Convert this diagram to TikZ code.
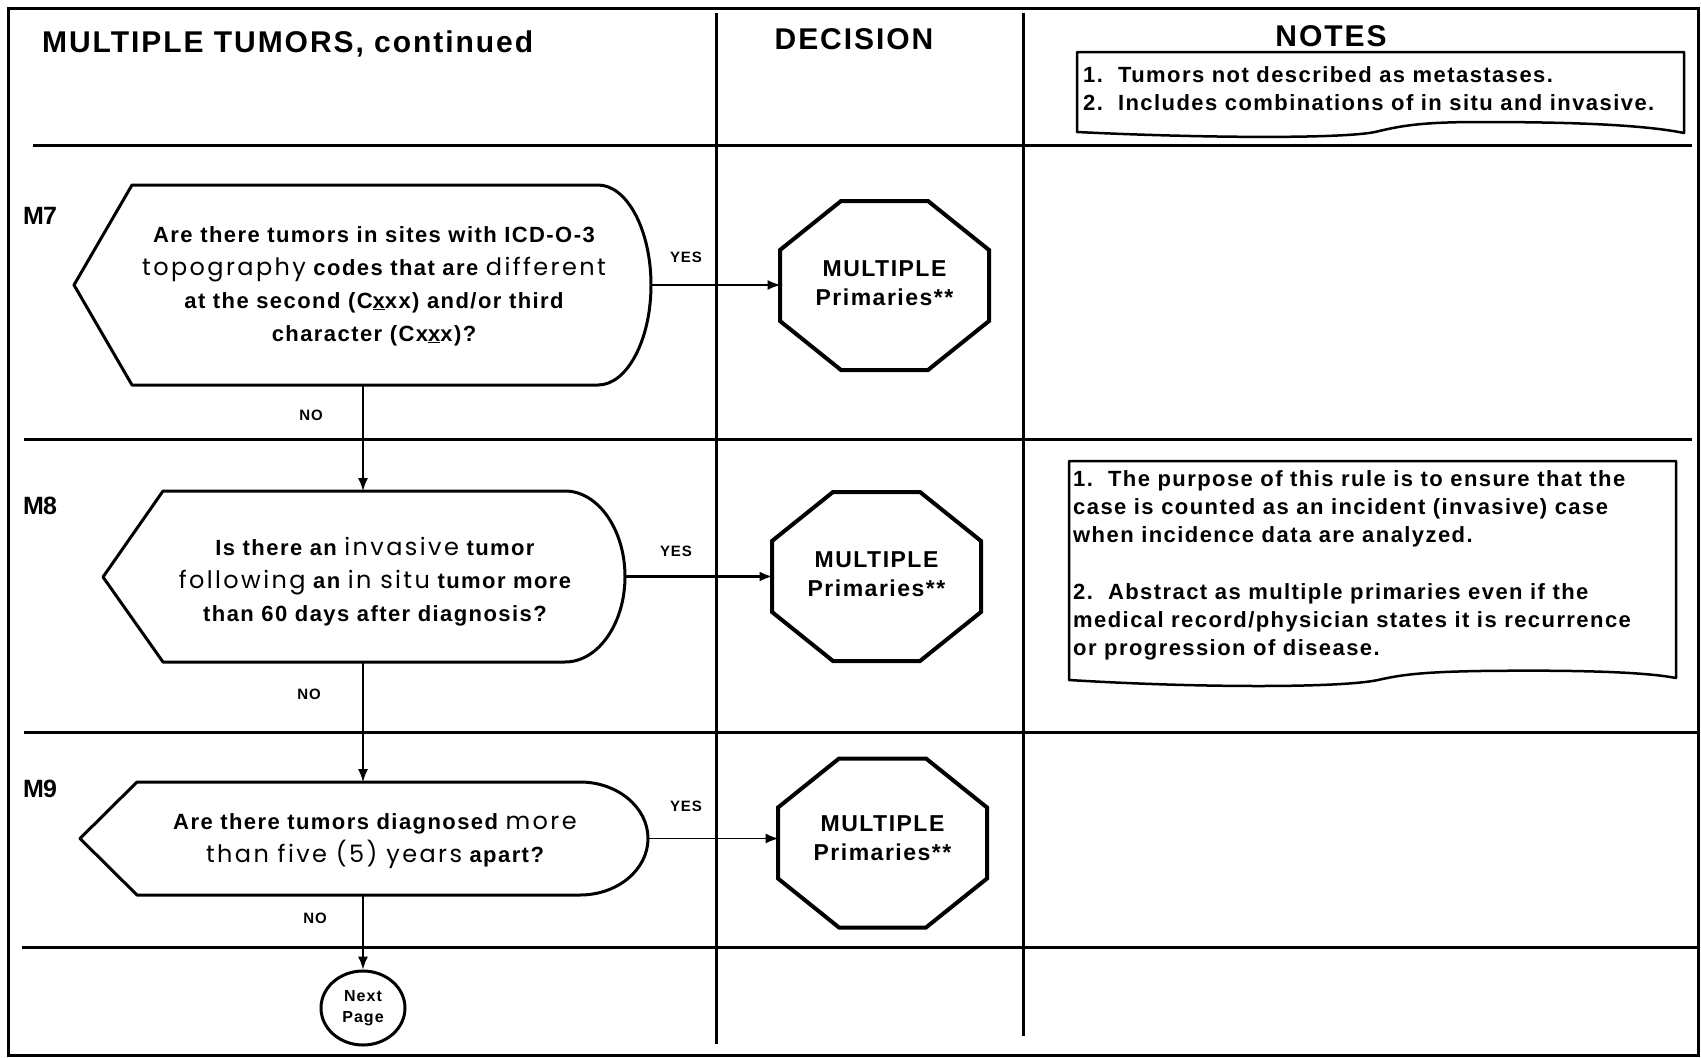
\documentclass[tikz,border=0pt]{standalone}
\usepackage{fontspec}
\setmainfont{Liberation Sans}
\newfontfamily\af{Liberation Sans}[LetterSpace=6.5]
\newfontfamily\mf{Liberation Sans}[LetterSpace=-4]
\newfontfamily\lf{Poppins}[LetterSpace=10]
\newcommand\Lw[1]{{\lf\mdseries\fontsize{24}{33}\selectfont #1}}
\usetikzlibrary{arrows.meta,shapes.geometric}
\begin{document}
\begin{tikzpicture}[x=1pt,y=-1pt,
  frame/.style={line width=3pt},
  gridline/.style={line width=3pt},
  qshape/.style={line width=3pt, line join=round},
  notebox/.style={line width=2.5pt, line join=round},
  octline/.style={line width=4pt, line join=miter},
  flow/.style={line width=1.5pt, -{Latex[length=13pt,width=10pt]}},
  flowthick/.style={line width=3pt, -{Latex[length=13pt,width=10pt]}},
  hdr/.style={font=\af\bfseries\fontsize{30}{36}\selectfont, inner sep=0pt},
  qtext/.style={font=\af\bfseries\fontsize{22}{33}\selectfont, align=center, inner sep=0pt},
  ntext/.style={font=\af\bfseries\fontsize{22}{28}\selectfont, align=left, inner sep=0pt, anchor=north west},
  otext/.style={font=\af\bfseries\fontsize{23}{29}\selectfont, align=center, inner sep=0pt},
  yn/.style={font=\af\bfseries\fontsize{15}{18}\selectfont, inner sep=0pt},
  mlbl/.style={font=\mf\bfseries\fontsize{25}{30}\selectfont, inner sep=0pt, anchor=base west},
  endnode/.style={draw, ellipse, line width=3pt, minimum width=84pt, minimum height=74pt, inner sep=0pt,
    align=center, font=\af\bfseries\fontsize{16}{21}\selectfont},
  octshape/.pic={\draw[octline] (-43.5,-84.5) -- (43.5,-84.5) -- (104.5,-35.5) -- (104.5,35.5)
     -- (43.5,84.5) -- (-43.5,84.5) -- (-104.5,35.5) -- (-104.5,-35.5) -- cycle;}
]
\fill[white] (0,0) rectangle (1701,1058);
\useasboundingbox (0,0) rectangle (1701,1058);

% frame and grid
\draw[frame] (8,8) rectangle (1698,1055);
\draw[gridline] (716,13) -- (716,1044);
\draw[gridline] (1023,13) -- (1023,1036);
\draw[gridline] (33,145) -- (1692,145);
\draw[gridline] (24,439) -- (1692,439);
\draw[gridline] (24,732) -- (1698,732);
\draw[gridline] (22,947) -- (1698,947);

% headers
\node[hdr, anchor=base west] (title) at (42,52) {MULTIPLE TUMORS, continued};
\node[hdr, anchor=base] (decision) at (854,49) {DECISION};
\node[hdr, anchor=base] (notes) at (1331,46) {NOTES};

% notes box 1
\draw[notebox] (1077,132) -- (1077,52) -- (1684,52) -- (1684,133)
  .. controls (1640,124) and (1560,122) .. (1480,122)
  .. controls (1420,122) and (1400,126) .. (1375,132)
  .. controls (1340,139) and (1200,138) .. (1077,132) -- cycle;
\node[ntext] (note1) at (1083,66) {1.\ \ Tumors not described as metastases.\\2.\ \ Includes combinations of in situ and invasive.};

% notes box 2
\draw[notebox] (1069,680) -- (1069,461) -- (1676,461) -- (1676,678)
  .. controls (1640,671) and (1560,670) .. (1480,671)
  .. controls (1420,672) and (1400,675) .. (1378,680)
  .. controls (1340,688) and (1200,688) .. (1069,680) -- cycle;
\node[ntext] (note2a) at (1073,470) {1.\ \ The purpose of this rule is to ensure that the\\case is counted as an incident (invasive) case\\when incidence data are analyzed.};
\node[ntext] (note2b) at (1073,583) {2.\ \ Abstract as multiple primaries even if the\\medical record/physician states it is recurrence\\or progression of disease.};

% rule labels
\node[mlbl] (m7) at (23,224) {M7};
\node[mlbl] (m8) at (23,514) {M8};
\node[mlbl] (m9) at (23,797) {M9};

% M7 question
\draw[qshape] (74,285) -- (132,185) -- (598,185)
  .. controls (627,185) and (651,230) .. (651,285)
  .. controls (651,340) and (627,385) .. (598,385) -- (132,385) -- cycle;
\node[qtext] (q7) at (374,286) {Are there tumors in sites with ICD-O-3\\\Lw{topography} codes that are \Lw{different}\\at the second (C\underline{x}xx) and/or third\\character (Cx\underline{x}x)?};
\coordinate (q7r) at (651,285);
\coordinate (q7b) at (363,385);

% M8 question
\draw[qshape] (103,577) -- (163,491) -- (565,491)
  .. controls (598,491) and (625,529.7) .. (625,576.5)
  .. controls (625,623.7) and (598,662) .. (565,662) -- (163,662) -- cycle;
\node[qtext] (q8) at (375,582) {Is there an \Lw{invasive} tumor\\\Lw{following} an \Lw{in situ} tumor more\\than 60 days after diagnosis?};
\coordinate (q8t) at (363,491);
\coordinate (q8r) at (625,576.5);
\coordinate (q8b) at (363,662);

% M9 question
\draw[qshape] (80,838.5) -- (137,782) -- (580,782)
  .. controls (617.5,782) and (648,807.3) .. (648,838.5)
  .. controls (648,869.7) and (617.5,895) .. (580,895) -- (137,895) -- cycle;
\node[qtext] (q9) at (375,841) {Are there tumors diagnosed \Lw{more}\\\Lw{than five (5) years} apart?};
\coordinate (q9t) at (363,782);
\coordinate (q9r) at (648,838.5);
\coordinate (q9b) at (363,895);

% decisions
\pic at (884.5,285.5) {octshape};
\node[otext] (o1) at (884.5,283) {MULTIPLE\\Primaries**};
\coordinate (o1w) at (780.5,285);
\pic at (876.5,576.5) {octshape};
\node[otext] (o2) at (876.5,574) {MULTIPLE\\Primaries**};
\coordinate (o2w) at (772.5,576.5);
\pic at (882.5,843) {octshape};
\node[otext] (o3) at (882.5,838) {MULTIPLE\\Primaries**};
\coordinate (o3w) at (778.5,838.5);

% end node
\node[endnode] (next) at (363,1008) {Next\\Page};

% connectors
\draw[flow] (q7r) -- (o1w);
\draw[flowthick] (q8r) -- (o2w);
\draw[flow] (q9r) -- (o3w);
\draw[flow] (q7b) -- (q8t);
\draw[flow] (q8b) -- (q9t);
\draw[flow] (q9b) -- (next.north);

% yes / no labels
\node[yn] (yes7) at (686,257) {YES};
\node[yn] (yes8) at (676,551) {YES};
\node[yn] (yes9) at (686,806) {YES};
\node[yn] (no7) at (311,415) {NO};
\node[yn] (no8) at (309,694) {NO};
\node[yn] (no9) at (315,918) {NO};
\end{tikzpicture}
\end{document}
